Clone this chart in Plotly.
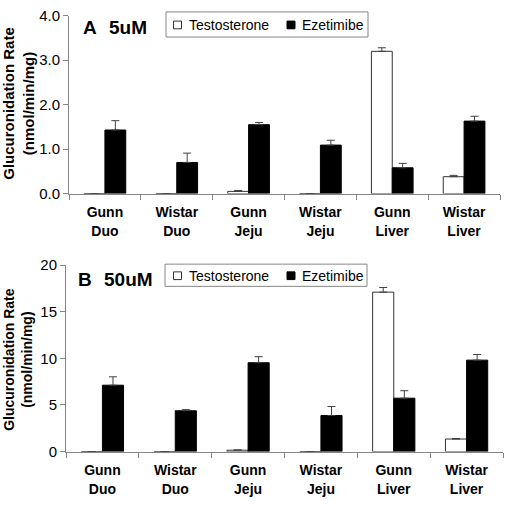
import plotly.graph_objects as go

W = H = 506

categories = ["Gunn<br>Duo", "Wistar<br>Duo", "Gunn<br>Jeju", "Wistar<br>Jeju", "Gunn<br>Liver", "Wistar<br>Liver"]

# Panel A: 5 uM
testo_5 = [0.0, 0.0, 0.05, 0.0, 3.20, 0.38]
testo_5_err = [0.0, 0.0, 0.02, 0.0, 0.08, 0.03]
ezet_5 = [1.43, 0.70, 1.55, 1.09, 0.58, 1.63]
ezet_5_err = [0.21, 0.21, 0.05, 0.11, 0.10, 0.11]

# Panel B: 50 uM
testo_50 = [0.0, 0.0, 0.15, 0.0, 17.1, 1.35]
testo_50_err = [0.0, 0.0, 0.03, 0.0, 0.5, 0.05]
ezet_50 = [7.12, 4.38, 9.53, 3.87, 5.73, 9.81]
ezet_50_err = [0.90, 0.12, 0.65, 0.97, 0.80, 0.60]

series_names = ["Testosterone", "Ezetimibe"]
y_title = "Glucuronidation Rate<br>(nmol/min/mg)"
AXIS = "#868686"
FONT = "Liberation Sans, Arial, sans-serif"


def px_x(p):
    return p / W


def px_y(p):
    return 1 - p / H


def err(arr, color):
    return dict(type="data", symmetric=False, array=arr, arrayminus=[0] * len(arr),
                color=color, thickness=1, width=4)


fig = go.Figure()
for xa, ya, t, te, e, ee in [("x", "y", testo_5, testo_5_err, ezet_5, ezet_5_err),
                              ("x2", "y2", testo_50, testo_50_err, ezet_50, ezet_50_err)]:
    fig.add_trace(go.Bar(x=categories, y=t, name=series_names[0], xaxis=xa, yaxis=ya,
                         marker=dict(color="white", line=dict(color="#333333", width=1)),
                         error_y=err(te, "#404040"), showlegend=False))
    fig.add_trace(go.Bar(x=categories, y=e, name=series_names[1], xaxis=xa, yaxis=ya,
                         marker=dict(color="black", line=dict(color="black", width=1)),
                         error_y=err(ee, "#404040"), showlegend=False))

xcommon = dict(type="category", showline=True, linecolor=AXIS, linewidth=1,
               ticks="outside", tickson="boundaries", ticklen=5, tickcolor=AXIS,
               showgrid=False, tickfont=dict(family=FONT, size=14, color="black", weight="bold"),
               ticklabelstandoff=6)
ycommon = dict(showline=True, linecolor=AXIS, linewidth=1, ticks="outside", ticklen=5,
               tickcolor=AXIS, showgrid=False, zeroline=False,
               tickfont=dict(family=FONT, size=15, color="black"))

fig.update_layout(
    width=W, height=H, margin=dict(l=0, r=0, t=0, b=0),
    paper_bgcolor="white", plot_bgcolor="white",
    barmode="group", bargap=0.42, bargroupgap=0,
    font=dict(family=FONT, color="black"),
    xaxis=dict(domain=[px_x(69), px_x(500)], anchor="y", **xcommon),
    yaxis=dict(domain=[px_y(191), px_y(7)], anchor="x", range=[0, 4], dtick=1,
               tickformat=".1f", **ycommon),
    xaxis2=dict(domain=[px_x(66), px_x(503)], anchor="y2", **xcommon),
    yaxis2=dict(domain=[px_y(458), px_y(265)], anchor="x2", range=[0, 20], dtick=5, **ycommon),
)

shapes = []
annotations = []


def legend_box(x0, x1, y0, y1, cy, sq1x, sq2x, t1x, t2x):
    shapes.append(dict(type="rect", xref="paper", yref="paper",
                       x0=px_x(x0), x1=px_x(x1), y0=px_y(y1), y1=px_y(y0),
                       line=dict(color=AXIS, width=1), fillcolor="white"))
    shapes.append(dict(type="rect", xref="paper", yref="paper",
                       x0=px_x(sq1x), x1=px_x(sq1x + 8), y0=px_y(cy + 4), y1=px_y(cy - 4),
                       line=dict(color="#333333", width=1), fillcolor="white"))
    shapes.append(dict(type="rect", xref="paper", yref="paper",
                       x0=px_x(sq2x), x1=px_x(sq2x + 8), y0=px_y(cy + 4), y1=px_y(cy - 4),
                       line=dict(color="black", width=1), fillcolor="black"))
    for tx, name in [(t1x, series_names[0]), (t2x, series_names[1])]:
        annotations.append(dict(text=name, xref="paper", yref="paper", x=px_x(tx), y=px_y(cy),
                                xanchor="left", yanchor="middle", showarrow=False,
                                font=dict(family=FONT, size=14, color="black")))


legend_box(166, 368, 3, 29, 16.5, 173.5, 287, 187, 299.5)
legend_box(165, 367, 264, 287, 276, 173.5, 287, 187, 299.5)

for letter, conc, lx, cx, cy in [("A", "5uM", 81, 106.5, 19.5), ("B", "50uM", 76, 101.5, 279.5)]:
    annotations.append(dict(text="<b>" + letter + "</b>", xref="paper", yref="paper", x=px_x(lx),
                            y=px_y(cy), xanchor="left", yanchor="middle", showarrow=False,
                            font=dict(family=FONT, size=19, color="black")))
    annotations.append(dict(text="<b>" + conc + "</b>", xref="paper", yref="paper", x=px_x(cx),
                            y=px_y(cy), xanchor="left", yanchor="middle", showarrow=False,
                            font=dict(family=FONT, size=19, color="black")))

for cy, fs in [(97.5, 15), (362.5, 14)]:
    annotations.append(dict(text="<b>" + y_title.replace("<br>", "</b><br><b>") + "</b>",
                            xref="paper", yref="paper", x=px_x(18.5), y=px_y(cy),
                            xanchor="center", yanchor="middle", textangle=-90, showarrow=False,
                            font=dict(family=FONT, size=fs, color="black")))

fig.update_layout(shapes=shapes, annotations=annotations)
fig.write_html("out.html", config={"displayModeBar": False, "staticPlot": True},
               post_script="document.body.style.margin='0';document.body.style.overflow='hidden';")
